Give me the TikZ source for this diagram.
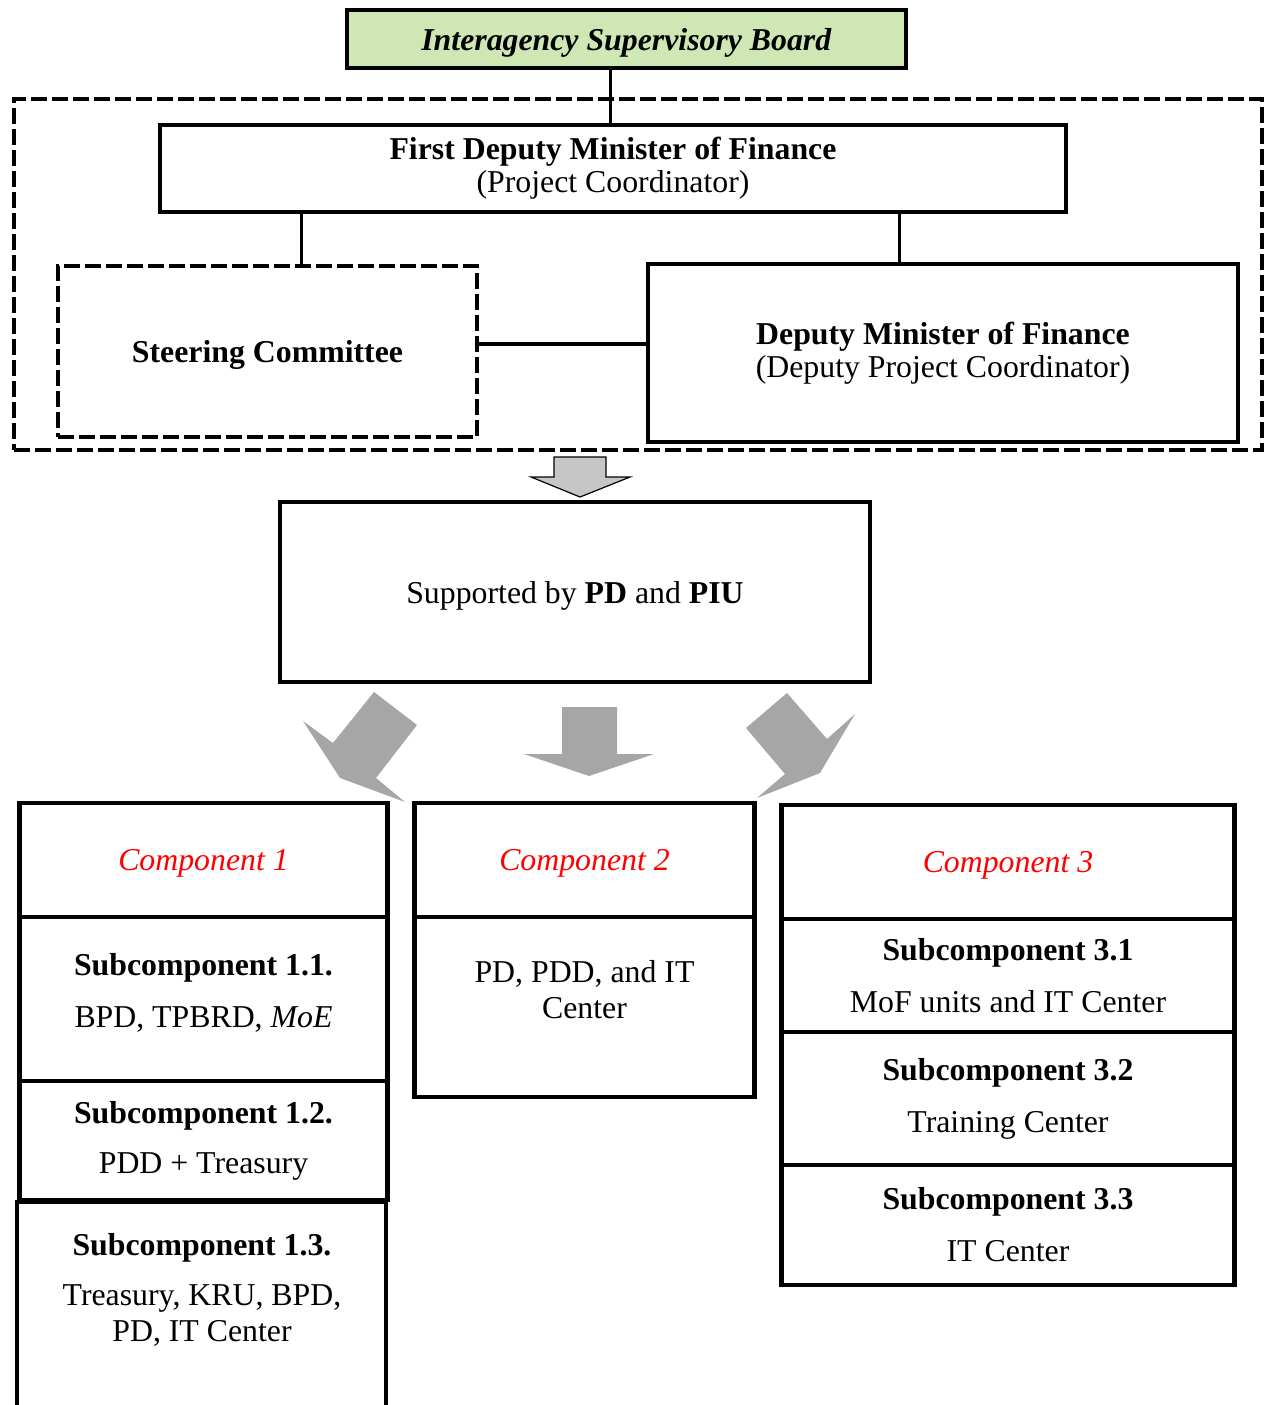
\documentclass[tikz,border=0pt]{standalone}
\usepackage{fontspec}
\setmainfont{Liberation Serif}
\usepackage{xcolor}
\usetikzlibrary{positioning}
\definecolor{boardgreen}{RGB}{206,231,180}
\definecolor{arrowgray}{RGB}{166,166,166}
\definecolor{compred}{RGB}{255,0,0}

\tikzset{
  txt/.style={align=center, inner sep=0pt, font=\fontsize{31.8}{36}\selectfont},
  box/.style={txt, draw, line width=4.5pt},
  dashbox/.style={box, line width=4.5pt, dash pattern=on 16pt off 5pt},
  link/.style={line width=3pt},
  comptitle/.style={box, text=compred, text depth=0pt, font=\fontsize{31.8}{36}\selectfont\itshape},
}

\begin{document}
\begin{tikzpicture}[x=1pt,y=-1pt]
\useasboundingbox (0,0) rectangle (1266,1405);

%board and group
\node[box, fill=boardgreen, minimum width=559, minimum height=58, text depth=0pt] (isb) at (626.5,39) {\textbf{\textit{Interagency Supervisory Board}}};
\node[dashbox, minimum width=1248, minimum height=351] (grp) at (638,274.5) {};

\node[box, minimum width=906, minimum height=87] (fdm) at (613,168.5) {\textbf{First Deputy Minister of Finance}\\[-3pt](Project Coordinator)};
\node[dashbox, minimum width=419, minimum height=171, text depth=0pt] (sc) at (267.5,351.5) {\textbf{Steering Committee}};
\node[box, minimum width=590, minimum height=178] (dm) at (943,353) {\textbf{Deputy Minister of Finance}\\[-3pt](Deputy Project Coordinator)};

%links
\draw[link] ([xshift=-3pt]fdm.north) -- ([xshift=-3pt]fdm.north |- isb.south);
\draw[link] ([xshift=34pt]sc.north) -- ([xshift=34pt]sc.north |- fdm.south);
\draw[link] ([xshift=-44pt]dm.north) -- ([xshift=-44pt]dm.north |- fdm.south);
\draw[line width=4pt] ([yshift=8pt]sc.east) -- ([yshift=8pt]sc.east -| dm.west);

%support
\draw[line width=1.2pt, left color=gray!45, middle color=gray!8, right color=gray!45]
  (554,457) -- (606,457) -- (606,477) -- (630,477) -- (580,497) -- (531,477) -- (554,477) -- cycle;
\node[box, minimum width=590, minimum height=180, text depth=0pt] (piu) at (575,592) {Supported by \textbf{PD} and \textbf{PIU}};

%block arrows
\fill[arrowgray] (374,692) -- (417,725) -- (376,778) -- (405,802) -- (340,778) -- (303,721) -- (333,743) -- cycle;
\fill[arrowgray] (562,707) -- (617,707) -- (617,754) -- (654,754) -- (589,776) -- (524,754) -- (562,754) -- cycle;
\fill[arrowgray] (787,693) -- (827,739) -- (855,714) -- (820,773) -- (757,798) -- (785,774) -- (746,728) -- cycle;

%component 1
\node[comptitle, minimum width=368, minimum height=114] (c1) at (203.5,860) {Component 1};
\node[box, minimum width=368, minimum height=164] (s11) at (203.5,999) {};
\node[txt] (s11t) at (203.5,993) {\textbf{Subcomponent 1.1.}\\[16pt]BPD, TPBRD, \textit{MoE}};
\node[box, minimum width=368, minimum height=119] (s12) at (203.5,1140.5) {\textbf{Subcomponent 1.2.}\\[14pt]PDD + Treasury};
\node[minimum width=369, minimum height=218, inner sep=0pt] (s13) at (201.5,1311) {};
\draw[line width=4.5pt] (s13.south west) |- (s13.north east) -- (s13.south east);
\node[txt] (s13t) at (202,1290) {\textbf{Subcomponent 1.3.}\\[14pt]Treasury, KRU, BPD,\\PD, IT Center};

%component 2
\node[comptitle, minimum width=340, minimum height=114] (c2) at (584.5,860) {Component 2};
\node[box, minimum width=340, minimum height=180] (c2b) at (584.5,1007) {};
\node[txt] (c2t) at (584.5,990) {PD, PDD, and IT\\Center};

%component 3
\node[comptitle, minimum width=453, minimum height=114] (c3) at (1008,862) {Component 3};
\node[box, minimum width=453, minimum height=113] (s31) at (1008,975.5) {\textbf{Subcomponent 3.1}\\[16pt]MoF units and IT Center};
\node[box, minimum width=453, minimum height=133] (s32) at (1008,1098.5) {\textbf{Subcomponent 3.2}\\[16pt]Training Center};
\node[box, minimum width=453, minimum height=120] (s33) at (1008,1225) {\textbf{Subcomponent 3.3}\\[16pt]IT Center};

\end{tikzpicture}
\end{document}
